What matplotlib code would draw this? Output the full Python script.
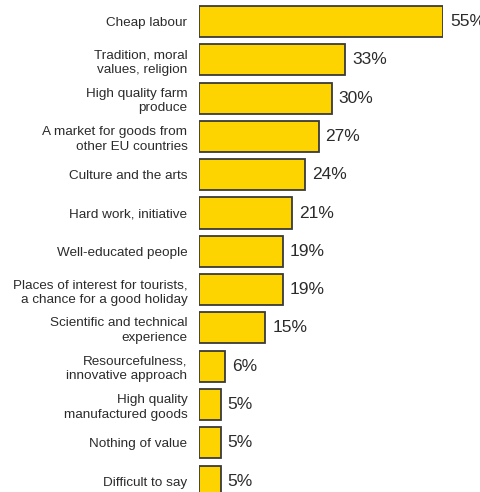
import matplotlib
matplotlib.use("Agg")
import matplotlib.pyplot as plt

labels = [
    "Cheap labour",
    "Tradition, moral\nvalues, religion",
    "High quality farm\nproduce",
    "A market for goods from\nother EU countries",
    "Culture and the arts",
    "Hard work, initiative",
    "Well-educated people",
    "Places of interest for tourists,\na chance for a good holiday",
    "Scientific and technical\nexperience",
    "Resourcefulness,\ninnovative approach",
    "High quality\nmanufactured goods",
    "Nothing of value",
    "Difficult to say",
]
values = [55, 33, 30, 27, 24, 21, 19, 19, 15, 6, 5, 5, 5]

plt.rcParams["font.family"] = ["Liberation Sans", "DejaVu Sans"]
text_col = "#2b2b2b"

fig = plt.figure(figsize=(4.8, 4.92), dpi=100)
ax = fig.add_axes([198.5 / 480, 0, 244.5 / 480, 1])

y = list(range(len(values)))
ax.barh(y, values, height=0.81, color="#FDD300", edgecolor="#3a3a3a",
        linewidth=1.3)

for yi, v in zip(y, values):
    ax.annotate(f"{v}%", (v, yi), xytext=(5, 0), textcoords="offset points",
                ha="left", va="center", fontsize=12.5, color=text_col,
                annotation_clip=False)

ax.set_yticks(y)
ax.set_yticklabels(labels, fontsize=9.7, color=text_col, linespacing=1.3)
ax.tick_params(axis="y", length=0, pad=8)
ax.set_xticks([])
ax.set_xlim(0, 55)
ax.set_ylim((492 - 21.5) / 38.3, -21.5 / 38.3)
for s in ax.spines.values():
    s.set_visible(False)

fig.savefig("out.png", dpi=100)
